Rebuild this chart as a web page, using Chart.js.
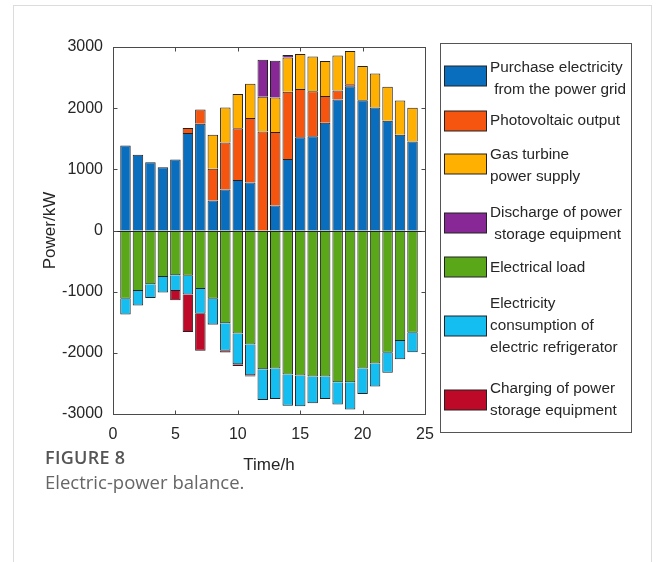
<!DOCTYPE html>
<html>
<head>
<meta charset="utf-8">
<title>Electric-power balance</title>
<script src="https://cdn.jsdelivr.net/npm/chart.js@4.4.1/dist/chart.umd.min.js"></script>
<style>
  html, body { margin: 0; padding: 0; background: #fff; }
  #wrap { position: relative; width: 658px; height: 562px; overflow: hidden; }
  #card { position: absolute; left: 13px; top: 5px; width: 639px; height: 640px;
          border: 1px solid #dcdcdc; box-sizing: border-box; }
  #chart { position: absolute; left: 0; top: 0; }
  #figno { position: absolute; left: 45px; top: 445px; font: 600 18px 'Open Sans', 'Noto Sans', sans-serif;
           color: #555; letter-spacing: 0.3px; }
  #figcap { position: absolute; left: 45px; top: 469px; font: 400 18.5px 'Open Sans', 'Noto Sans', sans-serif;
            color: #666; }
</style>
</head>
<body>
<div id="wrap">
  <div id="card"></div>
  <canvas id="chart" width="658" height="562"></canvas>
  <div id="figno">FIGURE 8</div>
  <div id="figcap">Electric-power balance.</div>
</div>
<script>
// Hourly electric power balance (kW): supply above zero, consumption below.
const hours = [1, 2, 3, 4, 5, 6, 7, 8, 9, 10, 11, 12, 13, 14, 15, 16, 17, 18, 19, 20, 21, 22, 23, 24];

const gridPurchase = [1390, 1240, 1115, 1035, 1160, 1595, 1745, 490, 670, 825, 785, 0,
                      410, 1170, 1525, 1540, 1760, 2140, 2360, 2130, 2010, 1795, 1565, 1455];
const pvOutput     = [0, 0, 0, 0, 0, 80, 235, 520, 770, 845, 1055, 1620,
                      1200, 1100, 790, 735, 440, 150, 30, 0, 0, 0, 0, 0];
const gasTurbine   = [0, 0, 0, 0, 0, 0, 0, 555, 570, 560, 560, 565,
                      565, 560, 570, 570, 570, 570, 545, 560, 555, 555, 560, 550];
const discharge    = [0, 0, 0, 0, 0, 0, 0, 0, 0, 0, 0, 605,
                      600, 40, 0, 0, 0, 0, 0, 0, 0, 0, 0, 0];
const electricLoad = [-1115, -990, -880, -760, -730, -740, -955, -1115, -1515, -1685, -1865, -2270,
                      -2255, -2355, -2370, -2385, -2385, -2480, -2480, -2255, -2175, -2000, -1805, -1670];
const refrigerator = [-260, -235, -225, -255, -260, -305, -405, -420, -450, -500, -500, -500,
                      -500, -510, -505, -440, -370, -365, -445, -420, -375, -325, -300, -320];
const charging     = [0, 0, 0, 0, -150, -615, -605, -10, -30, -30, -20, 0,
                      0, 0, 0, 0, 0, 0, 0, 0, 0, 0, 0, 0];

const xTickValues = [0, 5, 10, 15, 20, 25];
const yTickValues = [-3000, -2000, -1000, 0, 1000, 2000, 3000];

// Legend names, split into the lines they are printed on
const seriesNames = [
  ['Purchase electricity', ' from the power grid'],
  ['Photovoltaic output'],
  ['Gas turbine', 'power supply'],
  ['Discharge of power', ' storage equipment'],
  ['Electrical load'],
  ['Electricity', 'consumption of', 'electric refrigerator'],
  ['Charging of power', 'storage equipment']
];
const seriesColors = ['#0a6ebf', '#f5550f', '#ffb000', '#872896', '#5aa819', '#14bef0', '#be0a28'];
const seriesValues = [gridPurchase, pvOutput, gasTurbine, discharge, electricLoad, refrigerator, charging];

const FONT = "'Liberation Sans', Arial, Helvetica, sans-serif";
const INK = '#262626';
Chart.defaults.font.family = FONT;
Chart.defaults.color = INK;

const datasets = seriesValues.map((vals, i) => ({
  label: seriesNames[i].join(' ').replace(/\s+/g, ' ').trim(),
  data: hours.map((h, k) => ({ x: h, y: vals[k] })),
  backgroundColor: seriesColors[i],
  borderColor: '#222',
  borderWidth: 1,
  barPercentage: 0.84,
  categoryPercentage: 1
}));

// Axes frame with inward ticks on all four sides, plus the zero baseline
const framePlugin = {
  id: 'frame',
  afterDatasetsDraw(chart) {
    const { ctx, chartArea: a, scales: { x, y } } = chart;
    ctx.save();
    ctx.lineWidth = 1;
    const L = Math.round(a.left) + 0.5, R = Math.round(a.right) + 0.5;
    const T = Math.round(a.top) + 0.5, B = Math.round(a.bottom) + 0.5;
    const y0 = Math.round(y.getPixelForValue(0)) + 0.5;
    ctx.strokeStyle = INK;
    ctx.beginPath();
    ctx.moveTo(L, y0); ctx.lineTo(R, y0);
    ctx.stroke();
    ctx.strokeStyle = '#4a4a4a';
    ctx.strokeRect(L, T, R - L, B - T);
    const tl = 4;
    ctx.beginPath();
    xTickValues.forEach(v => {
      const px = Math.round(x.getPixelForValue(v)) + 0.5;
      ctx.moveTo(px, B); ctx.lineTo(px, B - tl);
      ctx.moveTo(px, T); ctx.lineTo(px, T + tl);
    });
    yTickValues.forEach(v => {
      const py = Math.round(y.getPixelForValue(v)) + 0.5;
      ctx.moveTo(L, py); ctx.lineTo(L + tl, py);
      ctx.moveTo(R, py); ctx.lineTo(R - tl, py);
    });
    ctx.stroke();
    ctx.restore();
  }
};

// Boxed legend to the right of the axes
const legendPlugin = {
  id: 'sideLegend',
  afterDraw(chart) {
    const { ctx } = chart;
    const rows = [
      { sy: 76,  ty: [68, 90] },
      { sy: 121, ty: [121] },
      { sy: 164, ty: [155, 177] },
      { sy: 223, ty: [213, 235] },
      { sy: 267, ty: [268] },
      { sy: 326, ty: [304, 326, 348] },
      { sy: 400, ty: [389, 411] }
    ];
    ctx.save();
    ctx.fillStyle = '#fff';
    ctx.strokeStyle = '#555';
    ctx.lineWidth = 1;
    ctx.fillRect(440.5, 43.5, 191, 389);
    ctx.strokeRect(440.5, 43.5, 191, 389);
    ctx.font = '15.3px ' + FONT;
    ctx.textBaseline = 'middle';
    ctx.textAlign = 'left';
    chart.data.datasets.forEach((ds, i) => {
      const r = rows[i];
      ctx.fillStyle = ds.backgroundColor;
      ctx.fillRect(444.5, r.sy - 10, 42, 20);
      ctx.strokeStyle = '#222';
      ctx.strokeRect(444.5, r.sy - 10, 42, 20);
      ctx.fillStyle = INK;
      seriesNames[i].forEach((line, j) => ctx.fillText(line, 490, r.ty[j]));
    });
    ctx.restore();
  }
};

new Chart(document.getElementById('chart'), {
  type: 'bar',
  data: { datasets },
  options: {
    responsive: false,
    animation: false,
    layout: { padding: { left: 0, right: 233, top: 47, bottom: 86 } },
    plugins: { legend: { display: false }, tooltip: { enabled: false } },
    scales: {
      x: {
        type: 'linear',
        stacked: true,
        offset: false,
        min: 0, max: 25,
        afterBuildTicks: s => { s.ticks = xTickValues.map(v => ({ value: v })); },
        afterFit: s => { s.height = 62; },
        grid: { display: false, drawTicks: false },
        border: { display: false },
        ticks: { padding: 11, font: { size: 16, family: FONT }, color: INK, maxRotation: 0, autoSkip: false,
                 callback: v => String(v) },
        title: { display: true, text: 'Time/h', font: { size: 17, family: FONT }, color: INK,
                 padding: { top: 0, bottom: 0 } }
      },
      y: {
        stacked: true,
        min: -3000, max: 3000,
        afterBuildTicks: s => { s.ticks = yTickValues.map(v => ({ value: v })); },
        afterFit: s => { s.width = 113; },
        grid: { display: false, drawTicks: false },
        border: { display: false },
        ticks: { padding: 10, font: { size: 16, family: FONT }, color: INK, autoSkip: false,
                 callback: v => String(v) },
        title: { display: true, text: 'Power/kW', font: { size: 17, family: FONT }, color: INK,
                 padding: { top: 40, bottom: 0 } }
      }
    }
  },
  plugins: [framePlugin, legendPlugin]
});
</script>
</body>
</html>
